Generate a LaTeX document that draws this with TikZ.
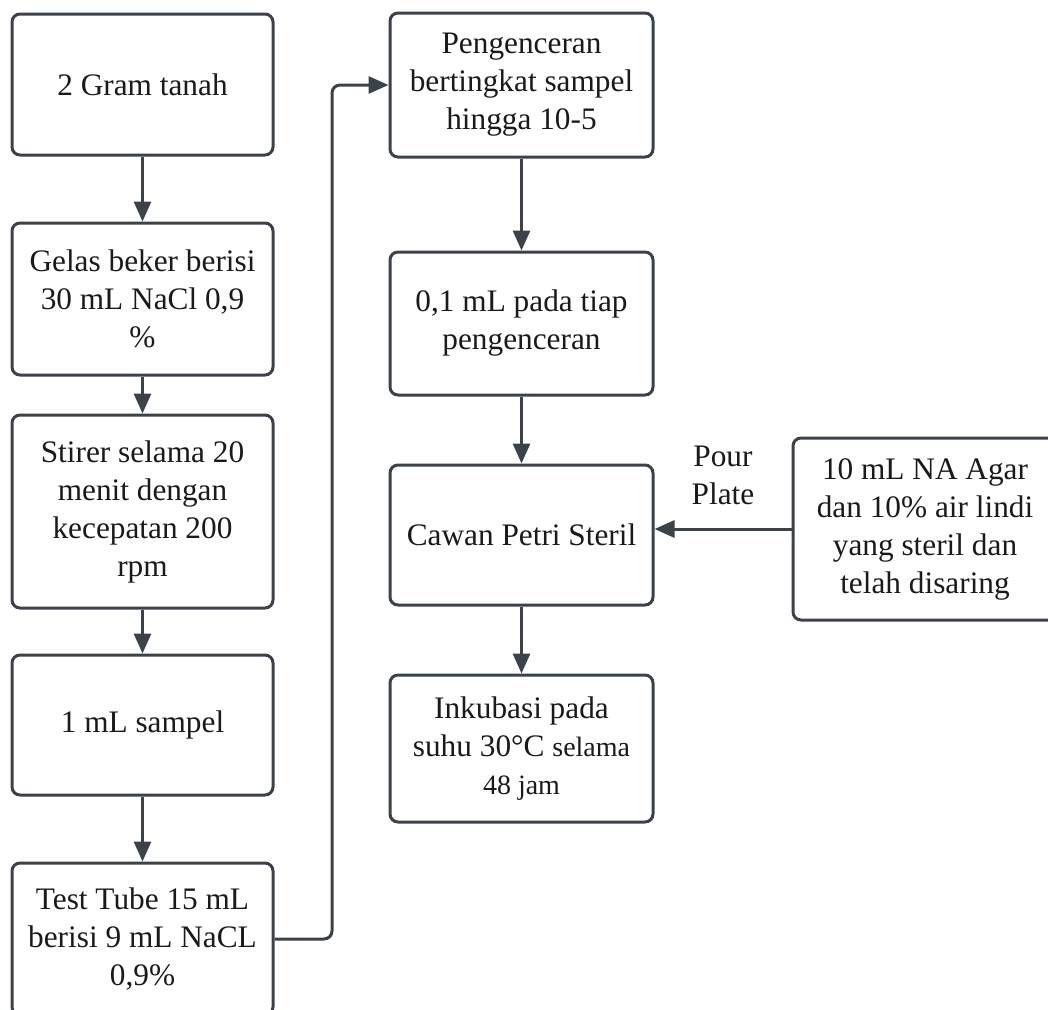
\documentclass[tikz,border=0pt]{standalone}
\usepackage{fontspec}
\setmainfont{Liberation Serif}
\usetikzlibrary{arrows.meta}
\definecolor{edge}{HTML}{3C424A}
\definecolor{ink}{HTML}{1A1A1A}
\tikzset{
  box/.style={draw=edge, line width=3pt, rounded corners=8pt, fill=white,
    align=center, text=ink, inner sep=0pt,
    font=\fontsize{31.3}{38}\selectfont},
  conn/.style={draw=edge, line width=3pt,
    -{Triangle[length=20pt,width=17pt]}},
  lbl/.style={text=ink, align=center, font=\fontsize{31.3}{38}\selectfont}
}
\newcommand{\smallfs}{\fontsize{28}{38}\selectfont}
\begin{document}
\begin{tikzpicture}[x=1pt,y=-1pt]
\useasboundingbox (0,0) rectangle (1048,1009);
\clip (0,0) rectangle (1048,1009);
\fill[white] (0,0) rectangle (1048,1009);
% left column
\node[box, minimum width=261pt, minimum height=141pt] (b1) at (142.5,84.5) {2 Gram tanah};
\node[box, minimum width=261pt, minimum height=152pt] (b2) at (142.5,299) {Gelas beker berisi\\30 mL NaCl 0,9\\\%};
\node[box, minimum width=261pt, minimum height=193pt] (b3) at (142.5,511.5) {Stirer selama 20\\menit dengan\\kecepatan 200\\rpm};
\node[box, minimum width=261pt, minimum height=140pt] (b4) at (142.5,725) {1 mL sampel};
\node[box, minimum width=261pt, minimum height=152pt] (b5) at (142.5,939) {Test Tube 15 mL\\berisi 9 mL NaCL\\0,9\%};
% middle column
\node[box, minimum width=263pt, minimum height=144pt] (p1) at (521.5,85) {Pengenceran\\bertingkat sampel\\hingga 10-5};
\node[box, minimum width=263pt, minimum height=143pt] (p2) at (521.5,323.5) {0,1 mL pada tiap\\pengenceran};
\node[box, minimum width=263pt, minimum height=140pt] (p3) at (521.5,535) {Cawan Petri Steril};
\node[box, minimum width=263pt, minimum height=147pt] (p4) at (521.5,748.5) {Inkubasi pada\\suhu 30\textdegree C {\smallfs selama}\\{\smallfs 48 jam}};
% right box
\node[box, minimum width=264pt, minimum height=182pt] (r) at (925,529) {10 mL NA Agar\\dan 10\% air lindi\\yang steril dan\\telah disaring};
% label
\node[lbl] (pp) at (723,475) {Pour\\Plate};
% connectors
\draw[conn] (b1.south) -- (b2.north);
\draw[conn] (b2.south) -- (b3.north);
\draw[conn] (b3.south) -- (b4.north);
\draw[conn] (b4.south) -- (b5.north);
\draw[conn, rounded corners=8pt] (b5.east) -- (332,939) |- (p1.west);
\draw[conn] (p1.south) -- (p2.north);
\draw[conn] (p2.south) -- (p3.north);
\draw[conn] (p3.south) -- (p4.north);
\draw[conn] (r.west) -- (r.west -| p3.east);
\end{tikzpicture}
\end{document}
